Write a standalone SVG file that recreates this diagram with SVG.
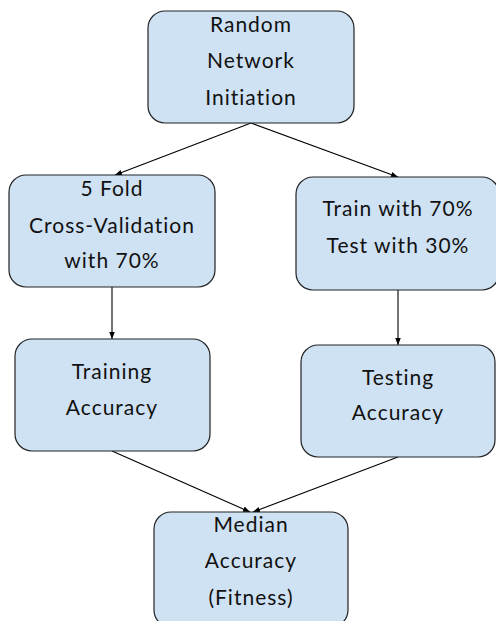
<svg xmlns="http://www.w3.org/2000/svg" width="496" height="621" viewBox="0 0 496 621">
<defs>
<marker id="ah" markerWidth="8" markerHeight="8" refX="7" refY="4" orient="auto" markerUnits="userSpaceOnUse">
<path d="M0,1.2 L7,4 L0,6.8 Z" fill="#000"/>
</marker>
<style>
.box{fill:#cfe2f3;stroke:#222;stroke-width:1.2}
.t{font-family:"Lato","Liberation Sans",sans-serif;font-size:21px;fill:#111;text-anchor:middle;letter-spacing:1px}
.c{stroke:#000;stroke-width:1.1;fill:none;marker-end:url(#ah)}
</style>
</defs>
<rect width="496" height="621" fill="#fff"/>
<g id="connectors">
<line class="c" x1="251" y1="123" x2="115" y2="175"/>
<line class="c" x1="251" y1="123" x2="398" y2="177"/>
<line class="c" x1="112" y1="287" x2="112" y2="339"/>
<line class="c" x1="398" y1="290" x2="398" y2="345"/>
<line class="c" x1="112" y1="451" x2="250" y2="512"/>
<line class="c" x1="398" y1="457" x2="253" y2="512"/>
</g>
<g id="random">
<rect class="box" x="148" y="11" width="206" height="112" rx="17"/>
<text class="t" x="251" y="32">Random</text>
<text class="t" x="251" y="68">Network</text>
<text class="t" x="251" y="105">Initiation</text>
</g>
<g id="crossval">
<rect class="box" x="9" y="175" width="206" height="112" rx="17"/>
<text class="t" x="112" y="196">5 Fold</text>
<text class="t" x="112" y="233">Cross-Validation</text>
<text class="t" x="112" y="268">with 70%</text>
</g>
<g id="traintest">
<rect class="box" x="296" y="177" width="203" height="113" rx="17"/>
<text class="t" x="398" y="216">Train with 70%</text>
<text class="t" x="398" y="253">Test with 30%</text>
</g>
<g id="trainacc">
<rect class="box" x="15" y="339" width="195" height="112" rx="17"/>
<text class="t" x="112" y="379">Training</text>
<text class="t" x="112" y="415">Accuracy</text>
</g>
<g id="testacc">
<rect class="box" x="301" y="345" width="194" height="112" rx="17"/>
<text class="t" x="398" y="385">Testing</text>
<text class="t" x="398" y="420">Accuracy</text>
</g>
<g id="median">
<rect class="box" x="154" y="512" width="194" height="115" rx="17"/>
<text class="t" x="251" y="532">Median</text>
<text class="t" x="251" y="568">Accuracy</text>
<text class="t" x="251" y="605">(Fitness)</text>
</g>
</svg>
